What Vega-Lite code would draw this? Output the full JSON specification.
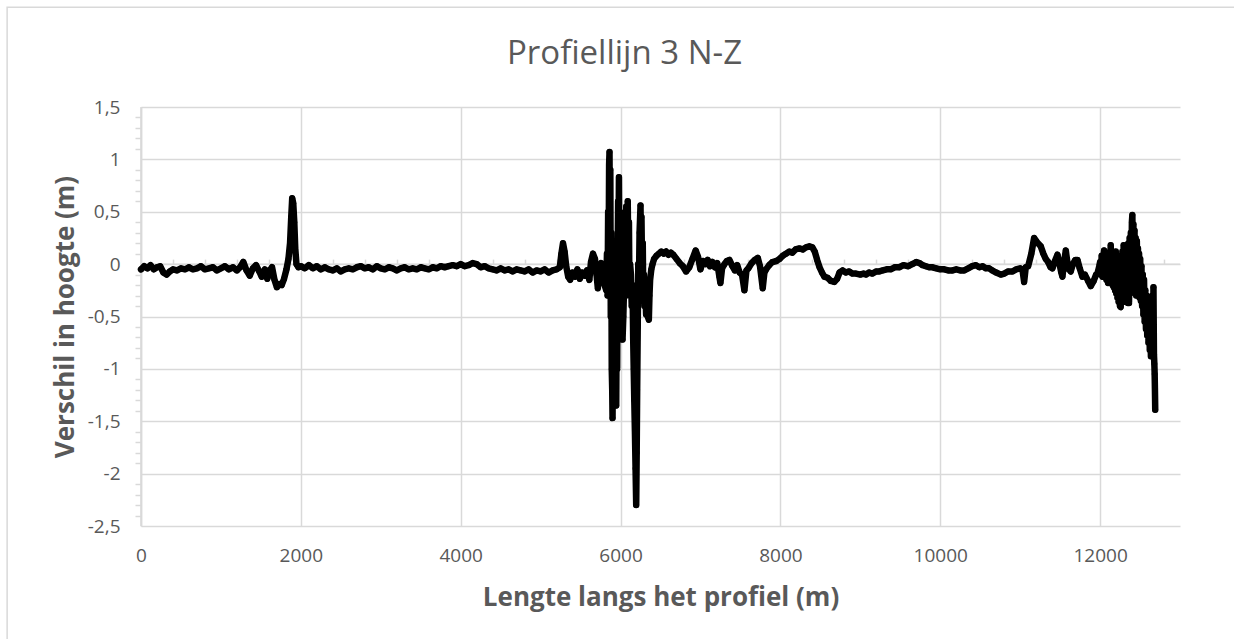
{
  "$schema": "https://vega.github.io/schema/vega-lite/v6.json",
  "autosize": "none",
  "width": 1039,
  "height": 419,
  "padding": {"left": 141, "top": 107, "right": 54, "bottom": 113},
  "background": "white",
  "title": {
    "text": "Profiellijn 3 N-Z",
    "font": "Open Sans",
    "fontSize": 33,
    "fontWeight": "normal",
    "color": "#595959",
    "anchor": "middle",
    "frame": "group",
    "dx": -36,
    "offset": -64
  },
  "config": {
    "view": {"stroke": null},
    "locale": {"number": {"decimal": ",", "thousands": ".", "grouping": [3], "currency": ["€", ""], "minus": "-"}},
    "axis": {"labelFont": "Open Sans", "titleFont": "Open Sans", "labelColor": "#595959", "titleColor": "#595959"}
  },
  "datasets": {
    "profiel": [
      {"x": 0, "y": -0.05}, {"x": 40, "y": -0.02}, {"x": 80, "y": -0.04}, {"x": 120, "y": -0.01}, {"x": 160, "y": -0.05},
      {"x": 200, "y": -0.03}, {"x": 240, "y": -0.02}, {"x": 280, "y": -0.08}, {"x": 320, "y": -0.1}, {"x": 360, "y": -0.07},
      {"x": 400, "y": -0.05}, {"x": 450, "y": -0.06}, {"x": 500, "y": -0.04}, {"x": 550, "y": -0.05}, {"x": 600, "y": -0.03},
      {"x": 650, "y": -0.05}, {"x": 700, "y": -0.04}, {"x": 750, "y": -0.02}, {"x": 800, "y": -0.05}, {"x": 850, "y": -0.04},
      {"x": 900, "y": -0.03}, {"x": 950, "y": -0.06}, {"x": 1000, "y": -0.04}, {"x": 1050, "y": -0.02}, {"x": 1100, "y": -0.05},
      {"x": 1150, "y": -0.03}, {"x": 1200, "y": -0.06}, {"x": 1240, "y": -0.03}, {"x": 1280, "y": 0.02}, {"x": 1320, "y": -0.06},
      {"x": 1360, "y": -0.11}, {"x": 1400, "y": -0.04}, {"x": 1440, "y": -0.01}, {"x": 1480, "y": -0.07}, {"x": 1510, "y": -0.12},
      {"x": 1550, "y": -0.05}, {"x": 1580, "y": -0.14}, {"x": 1610, "y": -0.06}, {"x": 1640, "y": -0.03}, {"x": 1670, "y": -0.15},
      {"x": 1700, "y": -0.22}, {"x": 1730, "y": -0.19}, {"x": 1760, "y": -0.2}, {"x": 1790, "y": -0.14}, {"x": 1820, "y": -0.05},
      {"x": 1845, "y": 0.05}, {"x": 1865, "y": 0.2}, {"x": 1880, "y": 0.45}, {"x": 1892, "y": 0.63}, {"x": 1905, "y": 0.58},
      {"x": 1918, "y": 0.4}, {"x": 1930, "y": 0.15}, {"x": 1945, "y": 0.0}, {"x": 1970, "y": -0.03}, {"x": 2000, "y": -0.02},
      {"x": 2050, "y": -0.04}, {"x": 2100, "y": -0.01}, {"x": 2150, "y": -0.04}, {"x": 2200, "y": -0.02}, {"x": 2250, "y": -0.05},
      {"x": 2300, "y": -0.03}, {"x": 2350, "y": -0.05}, {"x": 2400, "y": -0.06}, {"x": 2450, "y": -0.04}, {"x": 2500, "y": -0.07},
      {"x": 2550, "y": -0.05}, {"x": 2600, "y": -0.04}, {"x": 2650, "y": -0.05}, {"x": 2700, "y": -0.03}, {"x": 2750, "y": -0.02},
      {"x": 2800, "y": -0.04}, {"x": 2850, "y": -0.03}, {"x": 2900, "y": -0.05}, {"x": 2950, "y": -0.02}, {"x": 3000, "y": -0.04},
      {"x": 3050, "y": -0.05}, {"x": 3100, "y": -0.03}, {"x": 3150, "y": -0.04}, {"x": 3200, "y": -0.06}, {"x": 3250, "y": -0.04},
      {"x": 3300, "y": -0.03}, {"x": 3350, "y": -0.05}, {"x": 3400, "y": -0.04}, {"x": 3450, "y": -0.05}, {"x": 3500, "y": -0.03},
      {"x": 3550, "y": -0.04}, {"x": 3600, "y": -0.05}, {"x": 3650, "y": -0.03}, {"x": 3700, "y": -0.04}, {"x": 3750, "y": -0.02},
      {"x": 3800, "y": -0.03}, {"x": 3850, "y": -0.02}, {"x": 3900, "y": -0.01}, {"x": 3950, "y": -0.02}, {"x": 4000, "y": 0.0},
      {"x": 4050, "y": -0.02}, {"x": 4100, "y": -0.01}, {"x": 4150, "y": 0.01}, {"x": 4200, "y": 0.0}, {"x": 4250, "y": -0.03},
      {"x": 4300, "y": -0.02}, {"x": 4350, "y": -0.04}, {"x": 4400, "y": -0.05}, {"x": 4450, "y": -0.06}, {"x": 4500, "y": -0.04},
      {"x": 4550, "y": -0.06}, {"x": 4600, "y": -0.05}, {"x": 4650, "y": -0.07}, {"x": 4700, "y": -0.05}, {"x": 4750, "y": -0.06},
      {"x": 4800, "y": -0.07}, {"x": 4850, "y": -0.05}, {"x": 4900, "y": -0.08}, {"x": 4950, "y": -0.06}, {"x": 5000, "y": -0.07},
      {"x": 5050, "y": -0.05}, {"x": 5100, "y": -0.08}, {"x": 5150, "y": -0.06}, {"x": 5200, "y": -0.05}, {"x": 5240, "y": -0.03},
      {"x": 5260, "y": 0.1}, {"x": 5280, "y": 0.2}, {"x": 5300, "y": 0.12}, {"x": 5320, "y": -0.02}, {"x": 5345, "y": -0.12},
      {"x": 5370, "y": -0.15}, {"x": 5400, "y": -0.08}, {"x": 5430, "y": -0.12}, {"x": 5460, "y": -0.05}, {"x": 5490, "y": -0.14},
      {"x": 5520, "y": -0.08}, {"x": 5550, "y": -0.11}, {"x": 5580, "y": -0.06}, {"x": 5610, "y": -0.15}, {"x": 5630, "y": 0.02},
      {"x": 5655, "y": 0.1}, {"x": 5680, "y": 0.05}, {"x": 5700, "y": -0.1}, {"x": 5716, "y": -0.23}, {"x": 5735, "y": -0.05},
      {"x": 5758, "y": 0.01}, {"x": 5780, "y": -0.12}, {"x": 5800, "y": -0.2}, {"x": 5821, "y": -0.25}, {"x": 5830, "y": 0.1},
      {"x": 5838, "y": -0.3}, {"x": 5845, "y": 0.5}, {"x": 5852, "y": 0.2}, {"x": 5857, "y": 0.95}, {"x": 5862, "y": 1.07},
      {"x": 5867, "y": 0.1}, {"x": 5872, "y": 0.9}, {"x": 5878, "y": -0.5}, {"x": 5884, "y": 0.3}, {"x": 5890, "y": -1.0},
      {"x": 5896, "y": -1.2}, {"x": 5900, "y": -1.47}, {"x": 5906, "y": -0.6}, {"x": 5912, "y": -1.2}, {"x": 5918, "y": -0.3},
      {"x": 5925, "y": -0.8}, {"x": 5935, "y": -1.2}, {"x": 5946, "y": -1.35}, {"x": 5952, "y": -0.4}, {"x": 5958, "y": -1.0},
      {"x": 5964, "y": 0.1}, {"x": 5970, "y": 0.6}, {"x": 5975, "y": 0.2}, {"x": 5980, "y": 0.83}, {"x": 5986, "y": -0.1},
      {"x": 5992, "y": 0.5}, {"x": 5998, "y": -0.5}, {"x": 6005, "y": -0.2}, {"x": 6015, "y": -0.65}, {"x": 6025, "y": -0.72},
      {"x": 6035, "y": -0.5}, {"x": 6045, "y": -0.2}, {"x": 6055, "y": 0.1}, {"x": 6065, "y": 0.3}, {"x": 6072, "y": 0.55},
      {"x": 6080, "y": 0.2}, {"x": 6090, "y": 0.6}, {"x": 6098, "y": 0.0}, {"x": 6105, "y": 0.4}, {"x": 6112, "y": -0.3},
      {"x": 6120, "y": 0.0}, {"x": 6130, "y": -0.1}, {"x": 6140, "y": -0.4}, {"x": 6150, "y": -0.2}, {"x": 6158, "y": -0.7},
      {"x": 6165, "y": -1.0}, {"x": 6172, "y": -1.3}, {"x": 6180, "y": -1.6}, {"x": 6188, "y": -1.95}, {"x": 6196, "y": -2.3},
      {"x": 6202, "y": -1.8}, {"x": 6208, "y": -1.2}, {"x": 6215, "y": -0.6}, {"x": 6222, "y": 0.0}, {"x": 6230, "y": -0.2},
      {"x": 6238, "y": 0.3}, {"x": 6245, "y": 0.45}, {"x": 6250, "y": 0.56}, {"x": 6256, "y": 0.1}, {"x": 6262, "y": 0.45},
      {"x": 6270, "y": -0.1}, {"x": 6278, "y": 0.2}, {"x": 6285, "y": -0.35}, {"x": 6292, "y": -0.1}, {"x": 6300, "y": -0.4},
      {"x": 6310, "y": -0.25}, {"x": 6320, "y": -0.48}, {"x": 6330, "y": -0.3}, {"x": 6340, "y": -0.5}, {"x": 6354, "y": -0.53},
      {"x": 6362, "y": -0.3}, {"x": 6370, "y": -0.15}, {"x": 6385, "y": -0.05}, {"x": 6400, "y": 0.0},
      {"x": 6420, "y": 0.05}, {"x": 6450, "y": 0.08}, {"x": 6480, "y": 0.1}, {"x": 6510, "y": 0.12}, {"x": 6540, "y": 0.1},
      {"x": 6570, "y": 0.12}, {"x": 6600, "y": 0.09}, {"x": 6630, "y": 0.11}, {"x": 6660, "y": 0.09}, {"x": 6700, "y": 0.05},
      {"x": 6740, "y": 0.01}, {"x": 6780, "y": -0.02}, {"x": 6820, "y": -0.07}, {"x": 6860, "y": -0.03}, {"x": 6900, "y": 0.05},
      {"x": 6940, "y": 0.13}, {"x": 6970, "y": 0.07}, {"x": 7000, "y": -0.05}, {"x": 7030, "y": 0.03}, {"x": 7060, "y": 0.0},
      {"x": 7090, "y": 0.04}, {"x": 7120, "y": -0.02}, {"x": 7150, "y": 0.02}, {"x": 7180, "y": -0.03}, {"x": 7210, "y": 0.01},
      {"x": 7237, "y": -0.12}, {"x": 7250, "y": -0.18}, {"x": 7270, "y": -0.04}, {"x": 7300, "y": 0.0}, {"x": 7330, "y": 0.03},
      {"x": 7362, "y": 0.04}, {"x": 7400, "y": -0.02}, {"x": 7430, "y": -0.06}, {"x": 7460, "y": -0.01}, {"x": 7490, "y": -0.08},
      {"x": 7520, "y": -0.1}, {"x": 7550, "y": -0.25}, {"x": 7575, "y": -0.06}, {"x": 7600, "y": -0.04}, {"x": 7640, "y": 0.01},
      {"x": 7680, "y": 0.04}, {"x": 7717, "y": 0.06}, {"x": 7745, "y": -0.02}, {"x": 7779, "y": -0.23}, {"x": 7800, "y": -0.08},
      {"x": 7821, "y": -0.05}, {"x": 7860, "y": -0.01}, {"x": 7900, "y": 0.02}, {"x": 7950, "y": 0.03}, {"x": 7990, "y": 0.05},
      {"x": 8030, "y": 0.08}, {"x": 8070, "y": 0.1}, {"x": 8112, "y": 0.12}, {"x": 8150, "y": 0.11}, {"x": 8190, "y": 0.14},
      {"x": 8237, "y": 0.15}, {"x": 8280, "y": 0.14}, {"x": 8320, "y": 0.16}, {"x": 8362, "y": 0.17}, {"x": 8400, "y": 0.16},
      {"x": 8430, "y": 0.12}, {"x": 8460, "y": 0.04}, {"x": 8490, "y": -0.03}, {"x": 8520, "y": -0.08}, {"x": 8550, "y": -0.12},
      {"x": 8590, "y": -0.13}, {"x": 8630, "y": -0.16}, {"x": 8675, "y": -0.17}, {"x": 8710, "y": -0.14}, {"x": 8740, "y": -0.08},
      {"x": 8779, "y": -0.06}, {"x": 8820, "y": -0.08}, {"x": 8860, "y": -0.07}, {"x": 8900, "y": -0.09}, {"x": 8946, "y": -0.09},
      {"x": 9000, "y": -0.1}, {"x": 9040, "y": -0.09}, {"x": 9071, "y": -0.1}, {"x": 9110, "y": -0.08}, {"x": 9150, "y": -0.09},
      {"x": 9200, "y": -0.07}, {"x": 9237, "y": -0.07}, {"x": 9280, "y": -0.06}, {"x": 9330, "y": -0.05}, {"x": 9380, "y": -0.05},
      {"x": 9430, "y": -0.03}, {"x": 9487, "y": -0.03}, {"x": 9540, "y": -0.01}, {"x": 9600, "y": -0.02}, {"x": 9650, "y": 0.0},
      {"x": 9700, "y": 0.02}, {"x": 9740, "y": 0.01}, {"x": 9780, "y": -0.01}, {"x": 9820, "y": -0.02}, {"x": 9860, "y": -0.03},
      {"x": 9904, "y": -0.03}, {"x": 9950, "y": -0.04}, {"x": 10000, "y": -0.05}, {"x": 10050, "y": -0.05}, {"x": 10100, "y": -0.06},
      {"x": 10154, "y": -0.06}, {"x": 10200, "y": -0.05}, {"x": 10250, "y": -0.06}, {"x": 10300, "y": -0.06}, {"x": 10350, "y": -0.04},
      {"x": 10400, "y": -0.02}, {"x": 10446, "y": -0.01}, {"x": 10490, "y": -0.03}, {"x": 10530, "y": -0.02}, {"x": 10570, "y": -0.04},
      {"x": 10612, "y": -0.04}, {"x": 10650, "y": -0.06}, {"x": 10700, "y": -0.08}, {"x": 10758, "y": -0.1}, {"x": 10800, "y": -0.09},
      {"x": 10850, "y": -0.07}, {"x": 10904, "y": -0.07}, {"x": 10950, "y": -0.05}, {"x": 11000, "y": -0.04}, {"x": 11030, "y": -0.06},
      {"x": 11050, "y": -0.17}, {"x": 11070, "y": -0.03}, {"x": 11100, "y": -0.02}, {"x": 11140, "y": 0.1}, {"x": 11175, "y": 0.25},
      {"x": 11210, "y": 0.21}, {"x": 11258, "y": 0.17}, {"x": 11290, "y": 0.1}, {"x": 11320, "y": 0.05}, {"x": 11350, "y": 0.02},
      {"x": 11380, "y": -0.03}, {"x": 11404, "y": -0.04}, {"x": 11430, "y": 0.02}, {"x": 11467, "y": 0.09}, {"x": 11490, "y": 0.01},
      {"x": 11515, "y": -0.08}, {"x": 11529, "y": -0.12}, {"x": 11550, "y": 0.02}, {"x": 11571, "y": 0.13}, {"x": 11590, "y": 0.02},
      {"x": 11610, "y": -0.05}, {"x": 11633, "y": -0.07}, {"x": 11660, "y": 0.0}, {"x": 11690, "y": 0.04}, {"x": 11717, "y": 0.04},
      {"x": 11745, "y": -0.04}, {"x": 11779, "y": -0.12}, {"x": 11810, "y": -0.1}, {"x": 11850, "y": -0.16}, {"x": 11883, "y": -0.21},
      {"x": 11920, "y": -0.16}, {"x": 11950, "y": -0.1}, {"x": 11967, "y": -0.09}, {"x": 11990, "y": -0.02}, {"x": 12000, "y": 0.02},
      {"x": 12010, "y": -0.1}, {"x": 12020, "y": 0.08}, {"x": 12030, "y": -0.12}, {"x": 12040, "y": 0.05}, {"x": 12050, "y": 0.13},
      {"x": 12060, "y": -0.1}, {"x": 12070, "y": 0.02}, {"x": 12080, "y": -0.15}, {"x": 12090, "y": 0.05}, {"x": 12100, "y": -0.18},
      {"x": 12110, "y": 0.08}, {"x": 12120, "y": -0.12}, {"x": 12133, "y": 0.18}, {"x": 12140, "y": -0.15}, {"x": 12150, "y": 0.1},
      {"x": 12158, "y": -0.2}, {"x": 12165, "y": 0.12}, {"x": 12172, "y": -0.22}, {"x": 12180, "y": 0.05}, {"x": 12188, "y": -0.25},
      {"x": 12196, "y": 0.12}, {"x": 12203, "y": -0.28}, {"x": 12210, "y": 0.02}, {"x": 12218, "y": -0.32}, {"x": 12225, "y": 0.08},
      {"x": 12232, "y": -0.36}, {"x": 12240, "y": -0.05}, {"x": 12248, "y": -0.4}, {"x": 12258, "y": -0.41}, {"x": 12265, "y": 0.05},
      {"x": 12272, "y": -0.35}, {"x": 12280, "y": 0.12}, {"x": 12288, "y": -0.3}, {"x": 12295, "y": 0.18}, {"x": 12302, "y": -0.33},
      {"x": 12310, "y": 0.1}, {"x": 12318, "y": -0.36}, {"x": 12325, "y": 0.15}, {"x": 12332, "y": -0.3}, {"x": 12340, "y": 0.05},
      {"x": 12348, "y": -0.37}, {"x": 12355, "y": 0.2}, {"x": 12362, "y": -0.37}, {"x": 12370, "y": 0.25}, {"x": 12378, "y": -0.25},
      {"x": 12385, "y": 0.3}, {"x": 12392, "y": -0.15}, {"x": 12398, "y": 0.4}, {"x": 12404, "y": 0.47}, {"x": 12410, "y": -0.1},
      {"x": 12417, "y": 0.38}, {"x": 12424, "y": -0.2}, {"x": 12431, "y": 0.32}, {"x": 12438, "y": -0.28}, {"x": 12445, "y": 0.25},
      {"x": 12452, "y": -0.3}, {"x": 12460, "y": 0.22}, {"x": 12467, "y": -0.25}, {"x": 12474, "y": 0.15}, {"x": 12481, "y": -0.3},
      {"x": 12488, "y": 0.1}, {"x": 12495, "y": -0.32}, {"x": 12502, "y": 0.05}, {"x": 12510, "y": -0.35}, {"x": 12518, "y": -0.02},
      {"x": 12526, "y": -0.4}, {"x": 12534, "y": -0.1}, {"x": 12542, "y": -0.48}, {"x": 12550, "y": -0.15}, {"x": 12558, "y": -0.55},
      {"x": 12566, "y": -0.25}, {"x": 12574, "y": -0.62}, {"x": 12582, "y": -0.3}, {"x": 12590, "y": -0.68}, {"x": 12598, "y": -0.4},
      {"x": 12606, "y": -0.75}, {"x": 12614, "y": -0.45}, {"x": 12622, "y": -0.82}, {"x": 12630, "y": -0.55}, {"x": 12636, "y": -0.88},
      {"x": 12644, "y": -0.5}, {"x": 12650, "y": -0.85}, {"x": 12656, "y": -0.3}, {"x": 12662, "y": -0.8}, {"x": 12668, "y": -0.22},
      {"x": 12674, "y": -0.86}, {"x": 12679, "y": -0.95}, {"x": 12683, "y": -1.05}, {"x": 12686, "y": -1.18}, {"x": 12688, "y": -1.28},
      {"x": 12690, "y": -1.39}
    ],
    "kader": [{"k": 0}]
  },
  "resolve": {"axis": {"x": "independent", "y": "independent"}},
  "layer": [
    {
      "data": {"name": "kader"},
      "mark": {"type": "rect", "fill": null, "stroke": "#d9d9d9", "strokeWidth": 1.5, "clip": false},
      "encoding": {
        "x": {"datum": -1675, "type": "quantitative", "scale": {"domain": [0, 13000], "nice": false, "zero": false}, "axis": null},
        "x2": {"datum": 13750},
        "y": {"datum": 2.452, "type": "quantitative", "scale": {"domain": [-2.5, 1.5], "nice": false, "zero": false}, "axis": null},
        "y2": {"datum": -3.7}
      }
    },
    {
      "data": {"name": "kader"},
      "mark": {"type": "rule", "color": "#d9d9d9", "strokeWidth": 1.5},
      "encoding": {
        "x": {"datum": 0, "type": "quantitative",
          "axis": {"orient": "top", "offset": -157.1, "values": [400, 800, 1200, 1600, 2400, 2800, 3200, 3600, 4400, 4800, 5200, 5600, 6400, 6800, 7200, 7600, 8400, 8800, 9200, 9600, 10400, 10800, 11200, 11600, 12400, 12800],
            "labels": false, "grid": false, "domain": false, "ticks": true, "tickSize": 5, "tickColor": "#d9d9d9", "tickWidth": 1.5, "title": null}
        }
      }
    },
    {
      "data": {"name": "kader"},
      "mark": {"type": "rule", "color": "#d9d9d9", "strokeWidth": 1.5},
      "encoding": {
        "y": {"datum": 0, "type": "quantitative",
          "axis": {"orient": "left", "values": [-2.4, -2.3, -2.2, -2.1, -1.9, -1.8, -1.7, -1.6, -1.4, -1.3, -1.2, -1.1, -0.9, -0.8, -0.7, -0.6, -0.4, -0.3, -0.2, -0.1, 0.1, 0.2, 0.3, 0.4, 0.6, 0.7, 0.8, 0.9, 1.1, 1.2, 1.3, 1.4],
            "labels": false, "grid": false, "domain": false, "ticks": true, "tickSize": 6, "tickColor": "#d9d9d9", "tickWidth": 1.5, "title": null}
        }
      }
    },
    {
      "data": {"name": "profiel"},
      "mark": {"type": "line", "color": "black", "strokeWidth": 6.5, "strokeJoin": "round", "strokeCap": "round"},
      "encoding": {
        "x": {"field": "x", "type": "quantitative",
          "axis": {"orient": "bottom", "values": [0, 2000, 4000, 6000, 8000, 10000, 12000], "format": "d",
            "grid": true, "gridColor": "#d9d9d9", "gridWidth": 1.5, "domain": false, "ticks": false, "labelFlush": false,
            "labelFontSize": 19, "labelPadding": 20,
            "title": "Lengte langs het profiel (m)", "titleFontSize": 26, "titleFontWeight": "bold", "titlePadding": 19}},
        "y": {"field": "y", "type": "quantitative",
          "axis": {"orient": "left", "values": [-2.5, -2, -1.5, -1, -0.5, 0, 0.5, 1, 1.5], "format": "~r",
            "grid": true, "gridColor": "#d9d9d9", "gridWidth": 1.5, "domain": true, "domainColor": "#d9d9d9", "domainWidth": 1.5, "ticks": false, "labelFlush": false,
            "labelFontSize": 19, "labelPadding": 21,
            "title": "Verschil in hoogte (m)", "titleFontSize": 26, "titleFontWeight": "bold", "titlePadding": 9}}
      }
    },
    {
      "data": {"name": "profiel"},
      "mark": {"type": "point", "filled": true, "color": "black", "size": 34, "opacity": 1},
      "encoding": {
        "x": {"field": "x", "type": "quantitative", "axis": null},
        "y": {"field": "y", "type": "quantitative", "axis": null}
      }
    }
  ]
}
